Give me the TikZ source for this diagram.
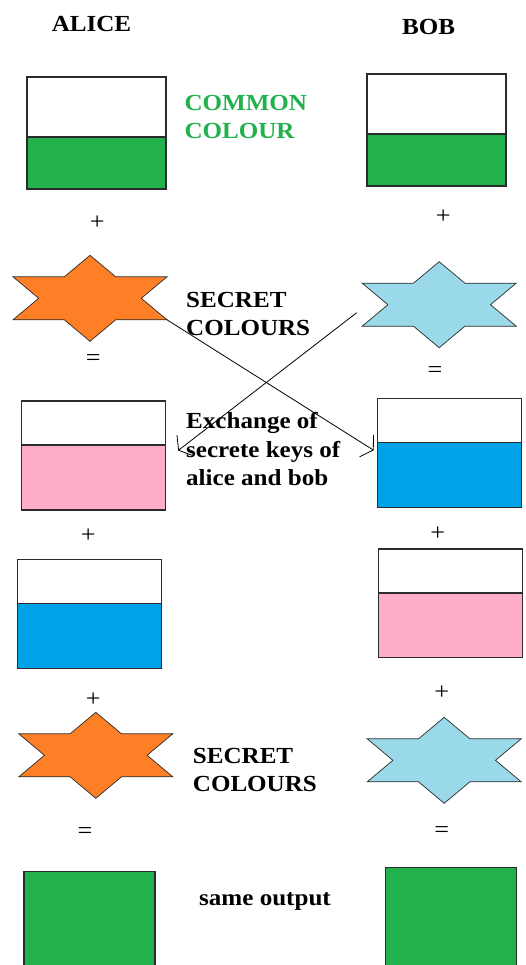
\documentclass[tikz,border=0pt]{standalone}
\usepackage{fontspec}
\setmainfont{Liberation Serif}[FakeStretch=1.09]
\usetikzlibrary{arrows.meta, positioning, calc}
\definecolor{cgreen}{HTML}{22B14C}
\definecolor{corange}{HTML}{FF7F27}
\definecolor{csky}{HTML}{99D9EA}
\definecolor{cblue}{HTML}{00A2E8}
\definecolor{cpink}{HTML}{FFAEC9}
\definecolor{edge}{HTML}{2B2B2B}

\tikzset{
  pics/hexstar/.style={code={
    \draw[draw=edge, line width=0.7pt, fill=#1, line join=miter]
      (0,-43) -- (25.7,-21.5) -- (77,-21.5) -- (51.3,0) -- (77,21.5)
      -- (25.7,21.5) -- (0,43) -- (-25.7,21.5) -- (-77,21.5)
      -- (-51.3,0) -- (-77,-21.5) -- (-25.7,-21.5) -- cycle;
    \coordinate (-se) at (77,21.5);
    \coordinate (-sw) at (-77,21.5);
  }}
}

\begin{document}
\begin{tikzpicture}[x=1pt, y=-1pt,
    every node/.style={inner sep=0pt},
    who/.style={font=\fontsize{23}{28}\selectfont\bfseries},
    note/.style={font=\fontsize{23}{28.4}\selectfont\bfseries, align=left, anchor=north west},
    op/.style={font=\fontsize{24}{24}\selectfont},
    cupbox/.style={draw=edge, line width=1.1pt, outer sep=0pt, minimum width=#1},
    link/.style={line width=0.8pt, -{Straight Barb[length=8pt, width=26pt]}},
]
\path[use as bounding box, fill=white] (0,0) rectangle (526,965);

% ---------------- names
\node[who, anchor=base] (alice) at (91.5,32) {ALICE};
\node[who, anchor=base] (bob) at (428.5,35) {BOB};

% ---------------- common colour
\node[cupbox=139, minimum height=60, fill=white] (a1t) at (96.5,107) {};
\node[cupbox=139, minimum height=52, fill=cgreen, below=0pt of a1t] (a1b) {};
\node[cupbox=139, minimum height=60, fill=white] (b1t) at (436.5,104) {};
\node[cupbox=139, minimum height=52, fill=cgreen, below=0pt of b1t] (b1b) {};
\node[note, text=cgreen] (common) at (184.3,95) {COMMON\\COLOUR};

% ---------------- secret colours
\pic (as1) at (90,298.3) {hexstar=corange};
\pic (bs1) at (439.2,304.7) {hexstar=csky};

% ---------------- mixtures
\node[cupbox=144, minimum height=44, fill=white] (a2t) at (93.7,423) {};
\node[cupbox=144, minimum height=65, fill=cpink, below=0pt of a2t] (a2b) {};
\node[cupbox=144, minimum height=44, fill=white] (b2t) at (449.7,420.3) {};
\node[cupbox=144, minimum height=65, fill=cblue, below=0pt of b2t] (b2b) {};

% ---------------- exchange
\coordinate (tip1) at ($(b2b.north west)+(-4,8)$);
\coordinate (tail2) at ($(bs1-sw)+(-5.5,-13.5)$);
\coordinate (tip2) at ($(a2b.north east)+(12.5,5.5)$);
\draw[link] (as1-se) -- (tip1);
\draw[link] (tail2) -- (tip2);
\node[note] (secret1) at (186,292) {SECRET\\COLOURS};
\node[note] (swap) at (186,412.5) {Exchange of\\secrete keys of\\alice and bob};

% ---------------- received
\node[cupbox=144, minimum height=44, fill=white] (a3t) at (89.5,581.3) {};
\node[cupbox=144, minimum height=65, fill=cblue, below=0pt of a3t] (a3b) {};
\node[cupbox=144, minimum height=44, fill=white] (b3t) at (450.8,571) {};
\node[cupbox=144, minimum height=64.7, fill=cpink, below=0pt of b3t] (b3b) {};

\pic (as2) at (95.8,755.3) {hexstar=corange};
\pic (bs2) at (444.2,760.3) {hexstar=csky};
\node[note] (secret2) at (192.7,748) {SECRET\\COLOURS};

% ---------------- output
\node[cupbox=131, minimum height=95, fill=cgreen] (a4) at (89.5,919.2) {};
\node[cupbox=131, minimum height=99, fill=cgreen] (b4) at (451.2,917.2) {};
\node[who, anchor=base west] (same) at (199,905) {same output};

\foreach \x/\y/\s [count=\i] in {97.3/223/+, 443.3/216.3/+, 93.3/360/=, 435/371.7/=,
    88.3/536/+, 437.7/534/+, 93.3/700/+, 441.7/692.7/+, 85/832.7/=, 441.7/831.7/=}
  \node[op] (op\i) at (\x,\y) {\s};

\end{tikzpicture}
\end{document}
